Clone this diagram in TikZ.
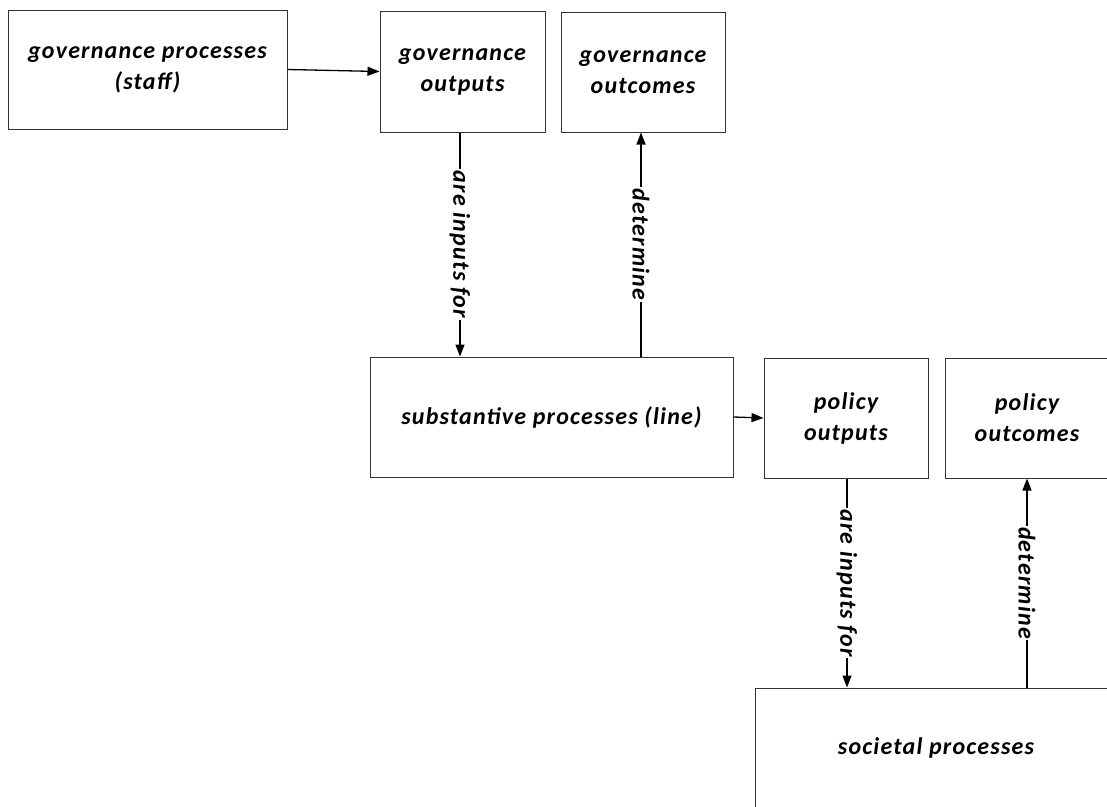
\documentclass[tikz,border=0pt]{standalone}
\usepackage{fontspec}
\setmainfont{Carlito}[LetterSpace=5]
\usetikzlibrary{arrows.meta}
\begin{document}
\begin{tikzpicture}[x=1pt,y=-1pt,
  box/.style={draw=black!80, line width=1pt, fill=white, inner sep=0pt},
  txt/.style={font=\fontsize{24}{31}\selectfont\bfseries\itshape, align=center},
  conn/.style={line width=1.3pt, -{Triangle[length=12pt,width=9pt]}},
  lbl/.style={fill=white, rotate=-90, inner sep=1.5pt, font=\fontsize{24}{25}\selectfont\bfseries\itshape}]
\useasboundingbox (0,0) rectangle (1107,806);
\clip (0,0) rectangle (1107,806);
\fill[white] (0,0) rectangle (1107,806);
% boxes
\node[box, txt, minimum width=279pt, minimum height=119pt] (gp) at (147.5,69.5) {governance processes\\(staff)};
\node[box, txt, minimum width=165pt, minimum height=121pt] (gout) at (462.5,71.5) {governance\\outputs};
\node[box, txt, minimum width=164pt, minimum height=120pt] (gocm) at (643,72) {governance\\outcomes};
\node[box, txt, minimum width=363pt, minimum height=120pt] (sub) at (551.5,417) {substantive processes (line)};
\node[box, txt, minimum width=164pt, minimum height=120pt] (pout) at (846,418) {policy\\outputs};
\node[box, txt, minimum width=164pt, minimum height=120pt] (pocm) at (1027,418) {policy\\outcomes};
\node[box, txt, minimum width=362pt, minimum height=120pt] (soc) at (936,748) {societal processes};
% connectors
\draw[conn] (gp.east) -- (gout.west);
\draw[conn] ([xshift=-2.5pt]gout.south) -- node[lbl] {are inputs for} ([xshift=-2.5pt]gout.south |- sub.north);
\draw[conn] ([xshift=-2pt]gocm.south |- sub.north) -- node[lbl] {determine} ([xshift=-2pt]gocm.south);
\draw[conn] (sub.east) -- (pout.west);
\draw[conn] ([xshift=1pt]pout.south) -- node[lbl] {are inputs for} ([xshift=1pt]pout.south |- soc.north);
\draw[conn] (pocm.south |- soc.north) -- node[lbl] {determine} (pocm.south);
\end{tikzpicture}
\end{document}
